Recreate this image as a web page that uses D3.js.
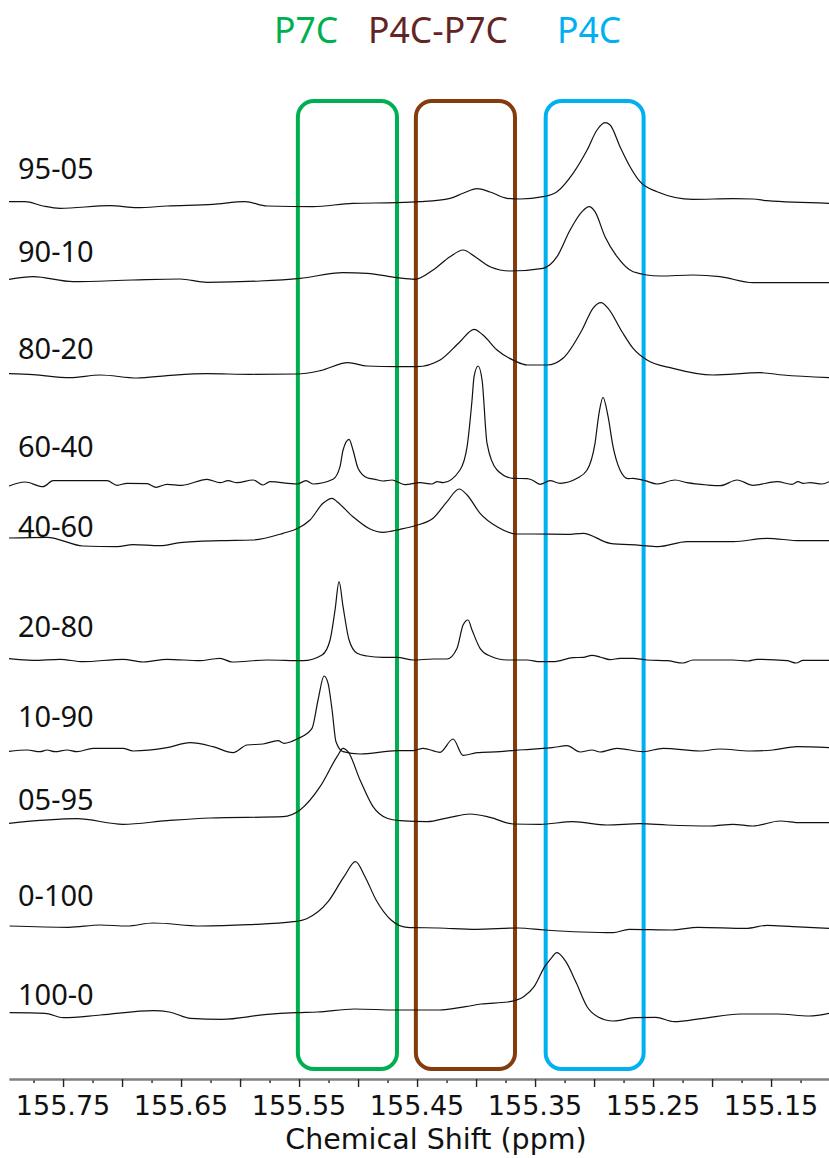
<!DOCTYPE html>
<html>
<head>
<meta charset="utf-8">
<script src="https://cdn.jsdelivr.net/npm/d3@7"></script>
<style>
  html, body { margin: 0; padding: 0; background: #ffffff; }
  svg { display: block; }
</style>
</head>
<body>
<script>
// ---------------- DATA ----------------
const spectrumLabels = ["95-05", "90-10", "80-20", "60-40", "40-60", "20-80", "10-90", "05-95", "0-100", "100-0"];
// vertical stacking offsets of each spectrum (intensity units)
const stackOffsets = [875, 799, 704, 596, 539, 419, 329, 257, 152, 65];

const regionNames = ["P7C", "P4C-P7C", "P4C"];
// ppm ranges of the highlighted regions [left, right]
const regionRanges = [[155.551, 155.467], [155.451, 155.367], [155.341, 155.258]];

const tickLabels = ["155.75", "155.65", "155.55", "155.45", "155.35", "155.25", "155.15"];
const majorTicks = [155.75, 155.70, 155.65, 155.60, 155.55, 155.50, 155.45, 155.40, 155.35, 155.30, 155.25, 155.20, 155.15];
const minorTicks = [155.775, 155.725, 155.675, 155.625, 155.575, 155.525, 155.475, 155.425, 155.375, 155.325, 155.275, 155.225, 155.175, 155.125];
const ppmDomain = [155.7958, 155.1009];

// [ppm, intensity above own baseline]
const s95_05 = [[155.7958,2.3],[155.7822,2.3],[155.7670,-2],[155.7526,-4.3],[155.7102,-1.7],[155.6873,-3.7],[155.6619,-2],[155.6229,-0.3],[155.5958,2.3],[155.5771,-2],[155.5382,-2.7],[155.5043,0.7],[155.4669,1.3],[155.4475,2.3],[155.4221,5.7],[155.4110,10.7],[155.3991,15.3],[155.3881,12],[155.3737,5.7],[155.3627,5],[155.3432,7.3],[155.3314,12.3],[155.3178,30.7],[155.3059,54],[155.2975,74],[155.2907,81.3],[155.2864,79],[155.2780,57.3],[155.2695,37.3],[155.2610,22.3],[155.2466,12.3],[155.2161,4.7],[155.1822,5.3],[155.1653,5],[155.1534,3.3],[155.1009,0.7]];
const s90_10 = [[155.7958,0.7],[155.7754,3.3],[155.7415,-1.7],[155.6907,0],[155.6509,1],[155.6280,-2.3],[155.5831,-1],[155.5492,1.7],[155.5127,7.3],[155.4924,6.7],[155.4669,2.3],[155.4517,0.7],[155.4364,10],[155.4221,23.3],[155.4110,30],[155.4008,23.3],[155.3881,13.3],[155.3712,9],[155.3432,11.7],[155.3314,23.3],[155.3203,50],[155.3102,68.3],[155.3042,73.3],[155.2992,68.3],[155.2907,43.3],[155.2805,23.3],[155.2669,8.3],[155.2441,4],[155.2161,5],[155.1932,3.3],[155.1653,-2.7],[155.1398,-2.7],[155.1009,-2.7]];
const s80_20 = [[155.7958,1.3],[155.7754,0.3],[155.7441,-2.7],[155.7187,0],[155.6873,-3],[155.6619,-0.7],[155.6280,1.3],[155.5915,0.7],[155.5517,1],[155.5322,4.3],[155.5085,12.3],[155.4924,9],[155.4669,8.3],[155.4500,8.3],[155.4305,15],[155.4136,33.3],[155.4017,45.7],[155.3941,40],[155.3822,25],[155.3670,14],[155.3568,10],[155.3398,10],[155.3263,16.7],[155.3102,45],[155.3009,66.7],[155.2941,72.3],[155.2881,66.7],[155.2763,43.3],[155.2669,26.7],[155.2551,15],[155.2331,6.7],[155.1992,0],[155.1593,2.3],[155.1398,0],[155.1009,-2.7]];
const s60_40 = [[155.7958,-3],[155.7822,1],[155.7670,-3.7],[155.7585,2.3],[155.7127,2.3],[155.7042,-2.3],[155.6958,-0.3],[155.6788,-0.7],[155.6712,-4.3],[155.6619,-1.3],[155.6492,-2.3],[155.6280,3.7],[155.6170,0.3],[155.6102,2.3],[155.6026,0.3],[155.5890,3],[155.5805,-2],[155.5746,1.3],[155.5517,-1],[155.5441,2.3],[155.5382,-1],[155.5212,3.7],[155.5153,16.3],[155.5127,33],[155.5076,43.7],[155.5043,33],[155.5000,14.7],[155.4924,5.3],[155.4856,3.7],[155.4788,2],[155.4712,3],[155.4669,1.3],[155.4602,-1.7],[155.4475,0.3],[155.4373,-1],[155.4330,1.3],[155.4280,0.3],[155.4136,13],[155.4076,36.3],[155.4034,83],[155.4017,106.3],[155.3983,117],[155.3949,103],[155.3907,39.7],[155.3822,13],[155.3687,4.7],[155.3568,4.3],[155.3525,3],[155.3458,-1.3],[155.3373,2.3],[155.3288,-0.3],[155.3144,4.7],[155.3059,13],[155.2992,39.7],[155.2958,69.7],[155.2924,85.7],[155.2881,66.3],[155.2839,36.3],[155.2780,13],[155.2712,4.3],[155.2669,4.7],[155.2568,2.3],[155.2466,-1],[155.2314,3],[155.2212,0.3],[155.2042,-2],[155.1932,-2.7],[155.1788,3],[155.1653,-2.3],[155.1449,1.3],[155.1322,-1.3],[155.1271,1.3],[155.1229,-0.3],[155.1169,0.3],[155.1068,-1],[155.1009,1.3]];
const s40_60 = [[155.7958,2],[155.7636,2.7],[155.7331,-6],[155.7042,-6.7],[155.6907,-4.7],[155.6678,-5.7],[155.6509,-2.7],[155.6170,-0.7],[155.5890,0],[155.5636,6.7],[155.5509,11.7],[155.5407,20],[155.5297,36.7],[155.5220,41.7],[155.5178,38.3],[155.5043,23.3],[155.4898,11],[155.4788,7.7],[155.4644,10.7],[155.4517,14.3],[155.4364,21.7],[155.4246,38.3],[155.4144,51],[155.4076,45],[155.3966,26.7],[155.3822,13.3],[155.3653,6],[155.3517,6],[155.3229,5.7],[155.3093,6.7],[155.2864,-3.3],[155.2610,-5.3],[155.2458,-6.7],[155.2212,-1.7],[155.1822,-1.7],[155.1534,1.7],[155.1254,-0.7],[155.1009,-0.7]];
const s20_80 = [[155.7958,1.3],[155.7754,-0.3],[155.7526,0.7],[155.7331,-1.7],[155.6992,0.7],[155.6822,-2],[155.6619,0.7],[155.6339,-0.7],[155.6229,1],[155.6170,1.7],[155.6068,-2],[155.5771,0],[155.5466,-0.7],[155.5305,5],[155.5237,20],[155.5195,50],[155.5161,78.3],[155.5127,53.3],[155.5076,20],[155.5008,6.7],[155.4924,4],[155.4788,2.7],[155.4669,2.7],[155.4534,0],[155.4364,1],[155.4246,1],[155.4161,11.7],[155.4110,35],[155.4068,40],[155.4034,30],[155.3966,11.7],[155.3881,4],[155.3737,0],[155.3568,0],[155.3458,-1.7],[155.3347,-1.7],[155.3178,2.3],[155.3093,2.7],[155.3017,4.7],[155.2949,3],[155.2864,0.3],[155.2780,1.7],[155.2669,1.7],[155.2551,0],[155.2381,-0.7],[155.2246,-3],[155.2161,0],[155.1822,0],[155.1695,-1],[155.1619,0.7],[155.1364,-0.7],[155.1288,-3],[155.1229,-0.3],[155.1009,-0.3]];
const s10_90 = [[155.7958,-1.3],[155.7805,0],[155.7695,-1.7],[155.7636,0],[155.7568,-1.7],[155.7466,0],[155.7381,-1.7],[155.7246,1.7],[155.6992,1.7],[155.6907,-1],[155.6619,2.3],[155.6424,7.3],[155.6229,3.3],[155.6059,-2.7],[155.5941,5],[155.5805,6],[155.5678,9.3],[155.5627,6.7],[155.5517,11],[155.5390,21.7],[155.5339,50],[155.5288,74],[155.5254,66.7],[155.5220,40],[155.5187,8.3],[155.5127,-1.7],[155.4983,-4],[155.4669,-0.7],[155.4534,-0.7],[155.4449,1.7],[155.4305,-2.3],[155.4195,11],[155.4110,-5.3],[155.3991,-2.7],[155.3797,-1.7],[155.3670,-0.3],[155.3542,0.7],[155.3432,1.7],[155.3356,2.3],[155.3229,4.3],[155.3119,-2],[155.3017,0],[155.2949,-2],[155.2805,1.7],[155.2585,-1.7],[155.2415,1.7],[155.2102,-1],[155.1932,1],[155.1678,-1],[155.1483,0],[155.1280,3.3],[155.1009,2.3]];
const s05_95 = [[155.7958,-1.3],[155.7381,3.3],[155.6992,-2.3],[155.6619,1.3],[155.6254,4],[155.5636,5.3],[155.5492,12],[155.5322,35.3],[155.5178,65.3],[155.5127,73.7],[155.5085,70.3],[155.4983,42],[155.4873,15.3],[155.4754,3.7],[155.4644,1.3],[155.4415,0.3],[155.4221,4.7],[155.4051,8],[155.3881,4.7],[155.3687,-2],[155.3458,-2.3],[155.3178,0.3],[155.2890,-3],[155.2610,-1.7],[155.2381,-3],[155.2017,-4],[155.1822,-2.3],[155.1653,-4],[155.1424,1],[155.1254,-0.7],[155.1009,-0.7]];
const s0_100 = [[155.7953,1],[155.7452,-0.3],[155.7187,2],[155.6958,1],[155.6737,4],[155.6331,1],[155.5928,2.3],[155.5547,5.3],[155.5435,8.3],[155.5254,25.3],[155.5119,50.3],[155.5022,65.3],[155.4941,50.3],[155.4847,27],[155.4720,7],[155.4585,-0.3],[155.4314,-1],[155.4000,-2.3],[155.3644,-1],[155.3418,-3],[155.3102,-5],[155.2839,-5.7],[155.2703,-2.3],[155.2339,-3],[155.2119,-0.3],[155.1712,-1.3],[155.1534,1.7],[155.1314,0.3],[155.1009,-1.3]];
const s100_0 = [[155.7953,1.3],[155.7653,0.7],[155.7496,-3.7],[155.7182,-1],[155.6733,3.3],[155.6600,2],[155.6420,-4.3],[155.6153,-5.3],[155.5793,-0.7],[155.5525,1.3],[155.5345,2],[155.5031,5],[155.4673,4],[155.4314,4],[155.4090,7.3],[155.3956,10],[155.3731,12],[155.3597,17.3],[155.3508,27.3],[155.3418,47.3],[155.3364,55.7],[155.3315,61.3],[155.3239,52.3],[155.3149,30.7],[155.3059,7.3],[155.2969,-2.7],[155.2836,-7],[155.2656,-3.7],[155.2477,-3.3],[155.2321,-7.7],[155.2074,-4.3],[155.1760,0],[155.1446,0],[155.1177,-2],[155.1009,0.7]];

const spectra = [s95_05, s90_10, s80_20, s60_40, s40_60, s20_80, s10_90, s05_95, s0_100, s100_0];

// ---------------- LAYOUT / STYLE ----------------
const W = 829, H = 1158;
const plotLeft = 9, plotRight = 829;
const axisY = 1079;
const labelBaselineY = [179, 262, 359, 457, 537, 637, 727, 810, 906, 1005];
const regionColors = ["#00B050", "#843C0C", "#00B0F0"];
const regionTitleColors = ["#00B050", "#632523", "#00B0F0"];
const regionTitleX = [274, 368, 557];
const boxTopUnits = 978, boxBottomUnits = 10;

const svg = d3.select("body").append("svg")
  .attr("width", W).attr("height", H)
  .attr("viewBox", `0 0 ${W} ${H}`);

const x = d3.scaleLinear().domain(ppmDomain).range([plotLeft, plotRight]);
const y = d3.scaleLinear().domain([0, 1000]).range([axisY, axisY - 1000]);

// region boxes
svg.append("g").selectAll("rect")
  .data(regionRanges)
  .join("rect")
  .attr("x", d => x(d[0]))
  .attr("width", d => x(d[1]) - x(d[0]))
  .attr("y", y(boxTopUnits))
  .attr("height", y(boxBottomUnits) - y(boxTopUnits))
  .attr("rx", 16).attr("ry", 16)
  .attr("fill", "none")
  .attr("stroke", (d, i) => regionColors[i])
  .attr("stroke-width", 4);

// region titles
svg.append("g").selectAll("text")
  .data(regionNames)
  .join("text")
  .attr("x", (d, i) => regionTitleX[i])
  .attr("y", 43)
  .attr("font-family", "'Noto Sans', 'Open Sans', sans-serif")
  .attr("font-size", 35.5)
  .attr("fill", (d, i) => regionTitleColors[i])
  .text(d => d);

// spectra
const g = svg.append("g");
spectra.forEach((data, i) => {
  const line = d3.line()
    .x(d => x(d[0]))
    .y(d => y(stackOffsets[i] + d[1]))
    .curve(d3.curveMonotoneX);
  g.append("path")
    .datum(data)
    .attr("d", line)
    .attr("fill", "none")
    .attr("stroke", "#111")
    .attr("stroke-width", 1.2)
    .attr("stroke-linejoin", "round");
});

// spectrum labels
svg.append("g").selectAll("text")
  .data(spectrumLabels)
  .join("text")
  .attr("x", 18)
  .attr("y", (d, i) => labelBaselineY[i])
  .attr("font-family", "'Noto Sans', 'Open Sans', sans-serif")
  .attr("font-size", 29)
  .attr("fill", "#111")
  .text(d => d);

// axis
const majorAxis = d3.axisBottom(x).tickValues(majorTicks).tickSize(8).tickSizeOuter(0).tickFormat("");
const minorAxis = d3.axisBottom(x).tickValues(minorTicks).tickSize(4).tickSizeOuter(0).tickFormat("");
const gMinor = svg.append("g").attr("transform", `translate(0,${axisY})`).call(minorAxis);
const gMajor = svg.append("g").attr("transform", `translate(0,${axisY})`).call(majorAxis);
[gMinor, gMajor].forEach(ga => {
  ga.select(".domain").attr("stroke", "#808080").attr("stroke-width", 2);
  ga.selectAll(".tick line").attr("stroke", "#222").attr("stroke-width", 1.4);
});

svg.append("g").selectAll("text")
  .data(tickLabels)
  .join("text")
  .attr("x", d => x(+d))
  .attr("y", 1115)
  .attr("text-anchor", "middle")
  .attr("font-family", "'DejaVu Sans', sans-serif")
  .attr("font-size", 27)
  .attr("fill", "#111")
  .text(d => d);

svg.append("text")
  .attr("x", 436)
  .attr("y", 1149)
  .attr("text-anchor", "middle")
  .attr("font-family", "'DejaVu Sans', sans-serif")
  .attr("font-size", 28.5)
  .attr("fill", "#111")
  .text("Chemical Shift (ppm)");
</script>
</body>
</html>
